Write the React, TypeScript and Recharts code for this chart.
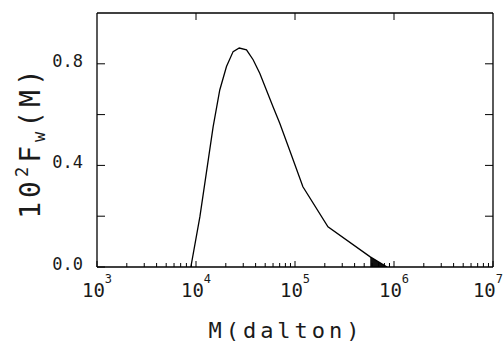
import { ComposedChart, Line, Area, XAxis, YAxis, Label } from 'recharts'

// molecular weight (dalton) and 10^2 Fw(M)
const masses = [
  8870, 10940, 13370, 14890, 17380, 20320, 23710, 27350, 32360, 37760,
  44060, 51400, 59980, 70150, 88310, 120200, 215300, 575400, 851100,
]
const fw = [
  0, 0.197, 0.428, 0.552, 0.697, 0.789, 0.848, 0.862, 0.855, 0.816,
  0.763, 0.697, 0.631, 0.566, 0.46, 0.316, 0.158, 0.04, 0,
]

// small shaded tail near 10^6
const tailMasses = [575400, 851100]
const tailFw = [0.04, 0]

const decades = [1e3, 1e4, 1e5, 1e6, 1e7]
const minorSteps = [2, 3, 4, 5, 6, 7, 8, 9]
const yTicks = [0, 0.2, 0.4, 0.6, 0.8]
const yLabelled = [0, 0.4, 0.8]

const xTicks = [
  ...decades,
  ...decades.slice(0, -1).flatMap(d => minorSteps.map(s => s * d)),
].sort((a, b) => a - b)

const data = masses.map((m, i) => ({ m, f: fw[i] }))
const tail = tailMasses.map((m, i) => ({ m, f: tailFw[i] }))

const FONT = '"DejaVu Sans Mono", monospace'
const INK = '#1a1a1a'

const isDecade = (v: number) => Math.abs(Math.log10(v) - Math.round(Math.log10(v))) < 1e-6

function BottomTick(props: any) {
  const { x, y, payload } = props
  const v = payload.value
  const major = isDecade(v)
  const last = v === decades[decades.length - 1]
  return (
    <g>
      <line x1={x} x2={x} y1={y} y2={y - (major ? 6 : 4)} stroke="#000" />
      {major && (
        <text
          x={last ? x + 10 : x}
          y={y + 30}
          textAnchor={last ? 'end' : 'middle'}
          fontFamily={FONT}
          fontSize={19}
          fill={INK}
        >
          10<tspan dy={-14} fontSize={12}>{Math.round(Math.log10(v))}</tspan>
        </text>
      )}
    </g>
  )
}

function TopTick(props: any) {
  const { x, y } = props
  return <line x1={x} x2={x} y1={y} y2={y + 7} stroke="#000" />
}

function LeftTick(props: any) {
  const { x, y, payload } = props
  const v = payload.value
  return (
    <g>
      <line x1={x} x2={x + 8} y1={y} y2={y} stroke="#000" />
      {yLabelled.includes(v) && (
        <text x={x - 14} y={y + 3} textAnchor="end" fontFamily={FONT} fontSize={17} fill={INK}>
          {v.toFixed(1)}
        </text>
      )}
    </g>
  )
}

function RightTick(props: any) {
  const { x, y } = props
  return <line x1={x} x2={x - 8} y1={y} y2={y} stroke="#000" />
}

function YTitle(props: any) {
  const vb = props.viewBox
  const cx = vb.x + 40
  const cy = vb.y + vb.height / 2 + 2
  return (
    <text
      x={cx}
      y={cy}
      transform={`rotate(-90, ${cx}, ${cy})`}
      textAnchor="middle"
      fontFamily={FONT}
      fontSize={28}
      letterSpacing={4}
      fill={INK}
    >
      10<tspan dy={-12} fontSize={17}>2</tspan>
      <tspan dy={12}>F</tspan>
      <tspan dy={5} fontSize={17}>w</tspan>
      <tspan dy={-5}>(M)</tspan>
    </text>
  )
}

function XTitle(props: any) {
  const vb = props.viewBox
  return (
    <text
      x={vb.x + vb.width / 2 - 9}
      y={vb.y + 71}
      textAnchor="middle"
      fontFamily={FONT}
      fontSize={22}
      letterSpacing={4}
      fill={INK}
    >
      M(dalton)
    </text>
  )
}

export default function App() {
  return (
    <div style={{ position: 'absolute', left: 0, top: 0, background: '#fff' }}>
      <ComposedChart
        width={504}
        height={342}
        data={data}
        margin={{ top: 12, right: 10, bottom: 0, left: 0 }}
      >
        <XAxis
          xAxisId="bottom"
          dataKey="m"
          type="number"
          scale="log"
          domain={[1e3, 1e7]}
          allowDataOverflow
          ticks={xTicks}
          interval={0}
          height={75}
          tickSize={0}
          tickMargin={0}
          tickLine={false}
          tick={<BottomTick />}
          axisLine={{ stroke: '#000', strokeWidth: 1.3 }}
        >
          <Label content={<XTitle />} />
        </XAxis>
        <XAxis
          xAxisId="top"
          orientation="top"
          dataKey="m"
          type="number"
          scale="log"
          domain={[1e3, 1e7]}
          allowDataOverflow
          ticks={[1e4, 1e5, 1e6]}
          interval={0}
          height={1}
          tickSize={0}
          tickMargin={0}
          tickLine={false}
          tick={<TopTick />}
          axisLine={{ stroke: '#000', strokeWidth: 1.3 }}
        />
        <YAxis
          yAxisId="left"
          dataKey="f"
          type="number"
          domain={[0, 1]}
          allowDataOverflow
          ticks={yTicks}
          interval={0}
          width={97}
          tickSize={0}
          tickMargin={0}
          tickLine={false}
          tick={<LeftTick />}
          axisLine={{ stroke: '#000', strokeWidth: 1.3 }}
        >
          <Label content={<YTitle />} />
        </YAxis>
        <YAxis
          yAxisId="right"
          orientation="right"
          dataKey="f"
          type="number"
          domain={[0, 1]}
          allowDataOverflow
          ticks={yTicks.slice(1)}
          interval={0}
          width={1}
          tickSize={0}
          tickMargin={0}
          tickLine={false}
          tick={<RightTick />}
          axisLine={{ stroke: '#000', strokeWidth: 1.3 }}
        />
        <Area
          xAxisId="bottom"
          yAxisId="left"
          data={tail}
          dataKey="f"
          type="linear"
          stroke="none"
          fill="#111"
          fillOpacity={1}
          isAnimationActive={false}
        />
        <Line
          xAxisId="bottom"
          yAxisId="left"
          dataKey="f"
          type="linear"
          stroke="#000"
          strokeWidth={1.3}
          dot={false}
          isAnimationActive={false}
        />
      </ComposedChart>
    </div>
  )
}
